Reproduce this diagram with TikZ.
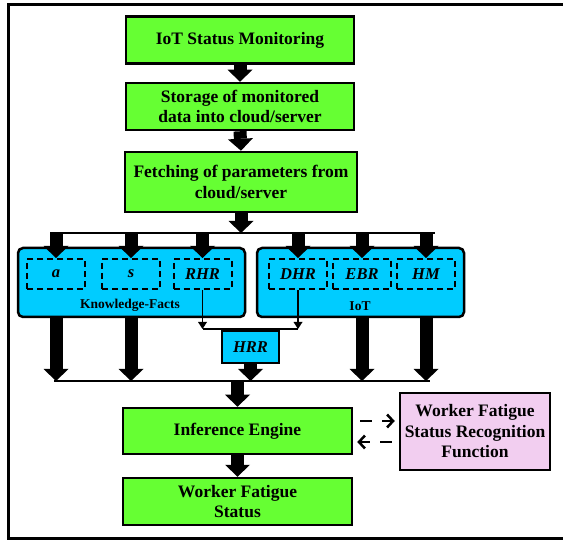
\documentclass[tikz,border=0pt]{standalone}
\usepackage{fontspec}
\setmainfont{Liberation Serif}
\usetikzlibrary{arrows.meta}
\definecolor{stepgreen}{RGB}{102,255,51}
\definecolor{groupblue}{RGB}{0,204,255}
\definecolor{funcpink}{RGB}{242,206,240}
\begin{document}
\begin{tikzpicture}[x=1pt, y=-1pt,
  stage/.style = {draw, line width=2.5pt, fill=stepgreen, inner sep=0pt, align=center, minimum width=228pt, minimum height=47pt, font=\bfseries\fontsize{17.5}{20.5}\selectfont},
  groupbox/.style = {draw, line width=2.5pt, fill=groupblue, rounded corners=5pt, inner sep=0pt},
  param/.style = {draw, line width=2pt, dash pattern=on 6pt off 4pt, inner sep=0pt, minimum width=58pt, minimum height=30pt, font=\bfseries\itshape\fontsize{16.5}{18}\selectfont},
  fat/.style = {line width=13pt, -{Triangle[length=12pt, width=25pt, line width=0pt]}},
  busline/.style = {line width=2pt},
  drop/.style = {line width=1.5pt, -{Triangle[length=7pt, width=9pt, line width=0pt]}},
  link/.style = {line width=2.5pt, dash pattern=on 12pt off 10pt, -{Straight Barb[length=6pt, width=13pt]}, shorten <=7pt, shorten >=4pt}]
\useasboundingbox (0,0) rectangle (563,540);
\draw[line width=3pt] (600,5) -- (8,5) -- (8,538) -- (600,538);

\node[stage] (mon) at (240,40) {IoT Status Monitoring};
\node[stage] (sto) at (240,106.5) {Storage of monitored\\data into cloud/server};
\node[stage, minimum width=232pt, minimum height=60pt] (fet) at (241,182) {Fetching of parameters from\\cloud/server};
\draw[fat] (mon.south) -- (sto.north);
\draw[fat] (sto.south) -- (fet.north);

\coordinate (topL) at (50,233);
\coordinate (topR) at (435,233);
\draw[fat] (fet.south) -- (fet.south |- topL);
\draw[busline] (topL) -- (topR);

\node[groupbox, minimum width=227pt, minimum height=69pt] (kf) at (131.5,282.5) {};
\node[groupbox, minimum width=207pt, minimum height=69pt] (iot) at (360.5,282.5) {};
\node[param] (a) at (56,274) {a};
\node[param] (s) at (131,274) {s};
\node[param] (rhr) at (202.5,274) {RHR};
\node[param] (dhr) at (298,274) {DHR};
\node[param] (ebr) at (362,274) {EBR};
\node[param] (hm) at (426,274) {HM};
\node[font=\bfseries\fontsize{13.5}{15}\selectfont] (kflabel) at (130,305) {Knowledge-Facts};
\node[font=\bfseries\fontsize{13.5}{15}\selectfont] (iotlabel) at (360,306) {IoT};
\foreach \p in {a,s,rhr,dhr,ebr,hm}
  \draw[fat] (\p.north |- topL) -- (\p.north);

\node[groupbox, rounded corners=0pt, minimum width=57pt, minimum height=32pt, font=\bfseries\itshape\fontsize{16.5}{18}\selectfont] (hrr) at (250.5,347) {HRR};
\coordinate (join) at (250,329);
\draw[drop] (rhr.south) -- (rhr.south |- join);
\draw[drop] (dhr.south) -- (dhr.south |- join);
\draw[line width=1.5pt] (rhr.south |- join) -- (dhr.south |- join);

\coordinate (botL) at (54,381);
\coordinate (botR) at (430,381);
\foreach \p in {a,s}
  \draw[fat] (\p.south |- kf.south) -- (\p.south |- botL);
\foreach \p in {ebr,hm}
  \draw[fat] (\p.south |- iot.south) -- (\p.south |- botL);
\draw[fat] (hrr.south) -- (hrr.south |- botL);
\draw[busline] (botL) -- (botR);

\node[stage, minimum width=229pt, minimum height=46pt] (ie) at (237.5,431) {Inference Engine};
\node[stage, minimum width=229pt] (wfs) at (237.5,501.5) {Worker Fatigue\\Status};
\node[stage, fill=funcpink, minimum width=150pt, minimum height=77pt] (wfr) at (475,431.5) {Worker Fatigue\\Status Recognition\\Function};
\draw[fat] (ie.north |- botL) -- (ie.north);
\draw[fat] (ie.south) -- (wfs.north);
\draw[link] ([yshift=10pt]ie.east) -- ([yshift=10pt]ie.east -| wfr.west);
\draw[link] ([yshift=-11pt]ie.east -| wfr.west) -- ([yshift=-11pt]ie.east);
\end{tikzpicture}
\end{document}
